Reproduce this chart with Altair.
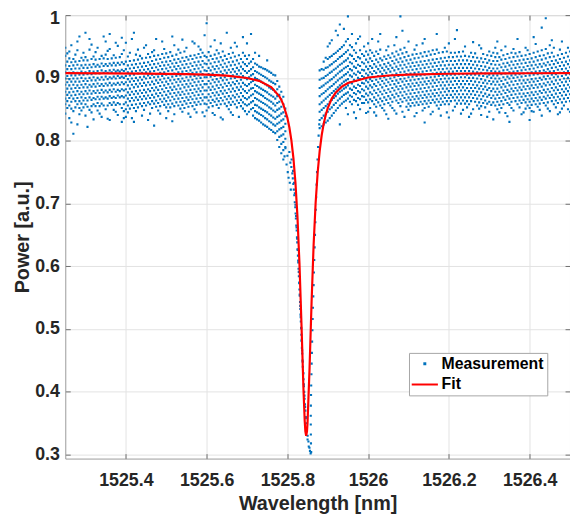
import altair as alt
import pandas as pd

# ---------------- Measurement: columns of points (wavelength nm -> list of power a.u.)
wl_a = [1525.25, 1525.26, 1525.27, 1525.28, 1525.29, 1525.30, 1525.31, 1525.32,
        1525.33, 1525.34, 1525.35, 1525.36, 1525.37, 1525.38, 1525.39]
pw_a = [
    [0.843, 0.858, 0.867, 0.878, 0.889, 0.899, 0.909, 0.920, 0.935, 0.948],
    [0.836, 0.856, 0.868, 0.877, 0.888, 0.898, 0.908, 0.919, 0.931, 0.942],
    [0.811, 0.847, 0.867, 0.878, 0.889, 0.899, 0.909, 0.920, 0.930],
    [0.826, 0.858, 0.868, 0.879, 0.888, 0.899, 0.908, 0.921, 0.944, 0.958],
    [0.848, 0.859, 0.869, 0.878, 0.889, 0.900, 0.910, 0.920, 0.932],
    [0.840, 0.858, 0.868, 0.879, 0.890, 0.899, 0.909, 0.921, 0.933, 0.972],
    [0.849, 0.869, 0.880, 0.889, 0.900, 0.911, 0.921, 0.945, 0.962],
    [0.834, 0.858, 0.868, 0.879, 0.890, 0.901, 0.910, 0.922, 0.934],
    [0.848, 0.860, 0.870, 0.880, 0.891, 0.900, 0.911, 0.921, 0.948],
    [0.838, 0.859, 0.870, 0.881, 0.890, 0.901, 0.912, 0.923, 0.935],
    [0.850, 0.869, 0.880, 0.891, 0.902, 0.911, 0.922, 0.937, 0.958],
    [0.833, 0.860, 0.871, 0.881, 0.892, 0.901, 0.912, 0.923, 0.946, 0.970],
    [0.849, 0.861, 0.870, 0.882, 0.891, 0.902, 0.913, 0.924, 0.936],
    [0.841, 0.860, 0.872, 0.881, 0.892, 0.903, 0.912, 0.924, 0.951],
    [0.830, 0.852, 0.871, 0.882, 0.893, 0.902, 0.913, 0.925, 0.938, 0.964],
]
wl_a2 = [1525.255, 1525.265, 1525.275, 1525.285, 1525.295, 1525.305, 1525.315, 1525.325,
         1525.335, 1525.345, 1525.355, 1525.365, 1525.375, 1525.385, 1525.395]
pw_a2 = [
    [0.852, 0.863, 0.873, 0.883, 0.893, 0.903, 0.914, 0.926, 0.939],
    [0.829, 0.851, 0.862, 0.872, 0.883, 0.894, 0.904, 0.914, 0.925, 0.952],
    [0.853, 0.863, 0.873, 0.884, 0.894, 0.904, 0.915, 0.926, 0.937],
    [0.842, 0.852, 0.863, 0.874, 0.884, 0.894, 0.905, 0.915, 0.927, 0.966],
    [0.853, 0.864, 0.874, 0.885, 0.895, 0.905, 0.916, 0.928, 0.940],
    [0.822, 0.854, 0.864, 0.875, 0.885, 0.895, 0.906, 0.916, 0.928],
    [0.845, 0.855, 0.865, 0.875, 0.886, 0.896, 0.906, 0.917, 0.930, 0.953],
    [0.855, 0.866, 0.876, 0.886, 0.896, 0.907, 0.918, 0.929, 0.941],
    [0.843, 0.855, 0.866, 0.876, 0.887, 0.897, 0.907, 0.918, 0.930],
    [0.856, 0.867, 0.877, 0.887, 0.897, 0.908, 0.919, 0.931, 0.966],
    [0.835, 0.856, 0.867, 0.877, 0.888, 0.898, 0.908, 0.919, 0.930, 0.943],
    [0.857, 0.868, 0.878, 0.888, 0.899, 0.909, 0.920, 0.931],
    [0.846, 0.857, 0.868, 0.878, 0.889, 0.899, 0.910, 0.920, 0.932, 0.956],
    [0.858, 0.869, 0.879, 0.889, 0.900, 0.910, 0.921, 0.933],
    [0.836, 0.847, 0.858, 0.869, 0.880, 0.890, 0.900, 0.911, 0.922, 0.944],
]

wl_b = [1525.40, 1525.41, 1525.42, 1525.43, 1525.44, 1525.45, 1525.46, 1525.47, 1525.48, 1525.49,
        1525.50, 1525.51, 1525.52, 1525.53, 1525.54, 1525.55, 1525.56, 1525.57, 1525.58, 1525.59]
pw_b = [
    [0.838, 0.850, 0.861, 0.872, 0.882, 0.893, 0.903, 0.914, 0.926, 0.956],
    [0.851, 0.863, 0.873, 0.883, 0.894, 0.904, 0.915, 0.927, 0.940],
    [0.830, 0.852, 0.864, 0.874, 0.885, 0.895, 0.905, 0.916, 0.928, 0.972],
    [0.853, 0.865, 0.875, 0.886, 0.896, 0.907, 0.917, 0.929, 0.945],
    [0.840, 0.855, 0.866, 0.876, 0.887, 0.897, 0.908, 0.918, 0.931],
    [0.856, 0.867, 0.877, 0.888, 0.899, 0.909, 0.919, 0.932, 0.952],
    [0.843, 0.858, 0.868, 0.879, 0.889, 0.900, 0.910, 0.921, 0.933],
    [0.824, 0.859, 0.869, 0.880, 0.890, 0.901, 0.911, 0.922, 0.935, 0.944],
    [0.848, 0.860, 0.871, 0.881, 0.892, 0.902, 0.913, 0.923, 0.936],
    [0.862, 0.872, 0.882, 0.893, 0.903, 0.914, 0.925, 0.938, 0.958],
    [0.836, 0.853, 0.863, 0.873, 0.884, 0.894, 0.905, 0.915, 0.926, 0.939],
    [0.853, 0.864, 0.875, 0.885, 0.896, 0.906, 0.917, 0.927, 0.941],
    [0.842, 0.855, 0.866, 0.876, 0.886, 0.897, 0.907, 0.918, 0.929, 0.952],
    [0.856, 0.867, 0.877, 0.888, 0.898, 0.909, 0.919, 0.930, 0.945],
    [0.846, 0.857, 0.868, 0.878, 0.889, 0.899, 0.910, 0.921, 0.932, 0.961],
    [0.859, 0.869, 0.880, 0.890, 0.901, 0.911, 0.922, 0.933, 0.948],
    [0.838, 0.860, 0.870, 0.881, 0.891, 0.902, 0.912, 0.923, 0.935],
    [0.850, 0.861, 0.872, 0.882, 0.893, 0.903, 0.914, 0.925, 0.936, 0.955],
    [0.862, 0.873, 0.883, 0.894, 0.904, 0.915, 0.926, 0.938, 0.950],
    [0.845, 0.864, 0.874, 0.885, 0.895, 0.906, 0.917, 0.927, 0.940],
]
wl_b2 = [1525.405, 1525.415, 1525.425, 1525.435, 1525.445, 1525.455, 1525.465, 1525.475,
         1525.485, 1525.495, 1525.505, 1525.515, 1525.525, 1525.535, 1525.545, 1525.555,
         1525.565, 1525.575, 1525.585, 1525.595]
pw_b2 = [
    [0.845, 0.856, 0.867, 0.877, 0.888, 0.898, 0.909, 0.920, 0.934],
    [0.836, 0.857, 0.868, 0.878, 0.889, 0.899, 0.910, 0.921, 0.962],
    [0.847, 0.858, 0.869, 0.879, 0.890, 0.900, 0.911, 0.922, 0.937],
    [0.859, 0.870, 0.880, 0.891, 0.901, 0.912, 0.923, 0.935],
    [0.849, 0.860, 0.871, 0.881, 0.892, 0.902, 0.913, 0.924, 0.948],
    [0.833, 0.861, 0.872, 0.882, 0.893, 0.904, 0.914, 0.925, 0.938],
    [0.852, 0.863, 0.873, 0.884, 0.894, 0.905, 0.916, 0.927, 0.941],
    [0.854, 0.864, 0.875, 0.885, 0.896, 0.906, 0.917, 0.929, 0.962],
    [0.843, 0.855, 0.866, 0.876, 0.887, 0.897, 0.908, 0.919, 0.930],
    [0.857, 0.867, 0.878, 0.888, 0.899, 0.909, 0.920, 0.932, 0.946],
    [0.847, 0.858, 0.869, 0.879, 0.890, 0.900, 0.911, 0.921, 0.933],
    [0.831, 0.859, 0.870, 0.881, 0.891, 0.902, 0.912, 0.923, 0.935, 0.966],
    [0.861, 0.872, 0.882, 0.893, 0.903, 0.914, 0.924, 0.937],
    [0.851, 0.862, 0.873, 0.883, 0.894, 0.904, 0.915, 0.926, 0.940],
    [0.852, 0.863, 0.874, 0.885, 0.895, 0.906, 0.916, 0.927, 0.942],
    [0.843, 0.854, 0.865, 0.875, 0.886, 0.896, 0.907, 0.917, 0.929],
    [0.855, 0.866, 0.876, 0.887, 0.897, 0.908, 0.919, 0.930, 0.958],
    [0.845, 0.857, 0.867, 0.878, 0.888, 0.899, 0.909, 0.920, 0.932],
    [0.858, 0.868, 0.879, 0.889, 0.900, 0.910, 0.921, 0.933, 0.945],
    [0.839, 0.859, 0.869, 0.880, 0.890, 0.901, 0.912, 0.923, 0.935, 0.968],
]

wl_c = [1525.60, 1525.61, 1525.62, 1525.63, 1525.64, 1525.65, 1525.66, 1525.67, 1525.68, 1525.69]
pw_c = [
    [0.848, 0.858, 0.869, 0.880, 0.890, 0.901, 0.911, 0.922, 0.933, 0.987],
    [0.860, 0.870, 0.881, 0.891, 0.902, 0.912, 0.923, 0.935, 0.950],
    [0.841, 0.862, 0.872, 0.882, 0.893, 0.903, 0.914, 0.925, 0.937, 0.960],
    [0.852, 0.863, 0.873, 0.884, 0.894, 0.905, 0.915, 0.926, 0.939],
    [0.834, 0.864, 0.875, 0.885, 0.896, 0.906, 0.917, 0.928, 0.942],
    [0.855, 0.866, 0.876, 0.887, 0.897, 0.908, 0.918, 0.930, 0.972],
    [0.845, 0.857, 0.867, 0.878, 0.888, 0.899, 0.909, 0.920, 0.932, 0.948],
    [0.858, 0.869, 0.879, 0.890, 0.900, 0.910, 0.921, 0.934, 0.956],
    [0.838, 0.860, 0.870, 0.881, 0.891, 0.902, 0.912, 0.923, 0.936],
    [0.851, 0.861, 0.871, 0.882, 0.892, 0.903, 0.914, 0.925, 0.940, 0.965],
]
wl_c2 = [1525.605, 1525.615, 1525.625, 1525.635, 1525.645, 1525.655, 1525.665, 1525.675,
         1525.685, 1525.695]
pw_c2 = [
    [0.853, 0.864, 0.874, 0.885, 0.895, 0.906, 0.916, 0.928, 0.941],
    [0.844, 0.855, 0.865, 0.876, 0.886, 0.897, 0.907, 0.918, 0.930],
    [0.857, 0.867, 0.877, 0.888, 0.898, 0.909, 0.919, 0.931, 0.944],
    [0.837, 0.858, 0.868, 0.879, 0.889, 0.900, 0.910, 0.921, 0.933, 0.955],
    [0.859, 0.870, 0.880, 0.891, 0.901, 0.912, 0.923, 0.935],
    [0.850, 0.861, 0.871, 0.882, 0.892, 0.903, 0.913, 0.925, 0.938],
    [0.841, 0.862, 0.872, 0.883, 0.893, 0.904, 0.914, 0.926, 0.940],
    [0.853, 0.864, 0.874, 0.885, 0.895, 0.906, 0.916, 0.928, 0.950],
    [0.855, 0.865, 0.876, 0.886, 0.897, 0.907, 0.918, 0.930],
    [0.847, 0.858, 0.868, 0.879, 0.889, 0.900, 0.911, 0.922, 0.935],
]

wl_d = [1525.70, 1525.71, 1525.72, 1525.73, 1525.74, 1525.75, 1525.76, 1525.77, 1525.78, 1525.79]
pw_d = [
    [0.842, 0.856, 0.866, 0.876, 0.887, 0.898, 0.908, 0.919, 0.930, 0.955],
    [0.850, 0.861, 0.872, 0.883, 0.893, 0.904, 0.914, 0.926, 0.970],
    [0.836, 0.847, 0.857, 0.868, 0.879, 0.889, 0.900, 0.911, 0.923, 0.940],
    [0.832, 0.843, 0.853, 0.864, 0.875, 0.885, 0.896, 0.907, 0.918, 0.935],
    [0.826, 0.839, 0.849, 0.860, 0.871, 0.881, 0.892, 0.903, 0.915],
    [0.822, 0.834, 0.845, 0.856, 0.866, 0.877, 0.888, 0.899, 0.912, 0.928],
    [0.817, 0.829, 0.840, 0.851, 0.862, 0.872, 0.883, 0.894, 0.908],
    [0.812, 0.824, 0.835, 0.846, 0.856, 0.867, 0.878, 0.890, 0.904],
    [0.790, 0.806, 0.818, 0.829, 0.840, 0.851, 0.862, 0.873, 0.886],
    [0.770, 0.785, 0.798, 0.810, 0.822, 0.834, 0.845, 0.858, 0.870],
]
wl_d2 = [1525.705, 1525.715, 1525.725, 1525.735, 1525.745, 1525.755, 1525.765, 1525.775,
         1525.785, 1525.795]
pw_d2 = [
    [0.846, 0.858, 0.869, 0.880, 0.890, 0.901, 0.911, 0.923, 0.936],
    [0.840, 0.852, 0.863, 0.874, 0.884, 0.895, 0.906, 0.917, 0.930],
    [0.834, 0.845, 0.856, 0.866, 0.877, 0.887, 0.898, 0.909, 0.921],
    [0.829, 0.841, 0.851, 0.862, 0.873, 0.883, 0.894, 0.905, 0.917],
    [0.824, 0.836, 0.847, 0.858, 0.868, 0.879, 0.890, 0.901, 0.914],
    [0.819, 0.831, 0.842, 0.853, 0.864, 0.874, 0.885, 0.896, 0.910],
    [0.814, 0.826, 0.837, 0.848, 0.859, 0.870, 0.881, 0.892, 0.905],
    [0.801, 0.815, 0.827, 0.838, 0.849, 0.860, 0.871, 0.882, 0.895],
    [0.780, 0.795, 0.808, 0.820, 0.832, 0.843, 0.854, 0.866, 0.878],
    [0.790, 0.803, 0.815, 0.827, 0.839, 0.851],
]

wl_e = [1525.88, 1525.89, 1525.90, 1525.91, 1525.92, 1525.93, 1525.94, 1525.95, 1525.96,
        1525.97, 1525.98, 1525.99]
pw_e = [
    [0.820, 0.833, 0.846, 0.858, 0.871, 0.884, 0.897, 0.912],
    [0.826, 0.840, 0.852, 0.864, 0.876, 0.888, 0.900, 0.913, 0.926],
    [0.832, 0.846, 0.858, 0.870, 0.882, 0.893, 0.905, 0.917, 0.930, 0.950],
    [0.840, 0.853, 0.865, 0.876, 0.887, 0.898, 0.910, 0.922, 0.935, 0.960],
    [0.848, 0.860, 0.871, 0.882, 0.893, 0.904, 0.915, 0.927, 0.940, 0.975],
    [0.826, 0.856, 0.867, 0.878, 0.888, 0.899, 0.910, 0.921, 0.933, 0.946, 0.985],
    [0.862, 0.873, 0.883, 0.894, 0.904, 0.915, 0.926, 0.938, 0.952, 0.978],
    [0.842, 0.867, 0.877, 0.888, 0.898, 0.909, 0.919, 0.931, 0.944, 0.962, 0.998],
    [0.858, 0.870, 0.881, 0.891, 0.902, 0.912, 0.923, 0.935, 0.949, 0.970],
    [0.836, 0.863, 0.874, 0.884, 0.895, 0.905, 0.916, 0.927, 0.940, 0.955],
    [0.850, 0.866, 0.877, 0.887, 0.898, 0.908, 0.919, 0.931, 0.944, 0.966],
    [0.860, 0.870, 0.880, 0.891, 0.901, 0.912, 0.923, 0.935, 0.950],
]
wl_e2 = [1525.885, 1525.895, 1525.905, 1525.915, 1525.925, 1525.935, 1525.945, 1525.955,
         1525.965, 1525.975, 1525.985, 1525.995]
pw_e2 = [
    [0.823, 0.836, 0.849, 0.861, 0.874, 0.886, 0.899, 0.914],
    [0.829, 0.843, 0.855, 0.867, 0.879, 0.891, 0.903, 0.916, 0.932],
    [0.836, 0.850, 0.862, 0.873, 0.885, 0.896, 0.908, 0.920, 0.933, 0.955],
    [0.844, 0.857, 0.868, 0.879, 0.890, 0.901, 0.913, 0.925, 0.938],
    [0.852, 0.864, 0.875, 0.885, 0.896, 0.907, 0.918, 0.930, 0.943, 0.968],
    [0.859, 0.870, 0.880, 0.891, 0.901, 0.912, 0.923, 0.935, 0.949],
    [0.852, 0.864, 0.875, 0.885, 0.896, 0.906, 0.917, 0.928, 0.941, 0.958],
    [0.862, 0.872, 0.883, 0.893, 0.904, 0.914, 0.925, 0.937, 0.952],
    [0.845, 0.865, 0.876, 0.886, 0.897, 0.907, 0.918, 0.930, 0.944],
    [0.857, 0.868, 0.879, 0.889, 0.900, 0.910, 0.921, 0.933, 0.962],
    [0.860, 0.871, 0.882, 0.892, 0.903, 0.913, 0.925, 0.938],
    [0.844, 0.865, 0.875, 0.886, 0.896, 0.907, 0.918, 0.929, 0.942],
]

wl_f = [1526.00, 1526.01, 1526.02, 1526.03, 1526.04, 1526.05, 1526.06, 1526.07, 1526.08, 1526.09,
        1526.10, 1526.11, 1526.12, 1526.13, 1526.14, 1526.15, 1526.16, 1526.17, 1526.18, 1526.19,
        1526.20, 1526.21, 1526.22, 1526.23, 1526.24, 1526.25, 1526.26, 1526.27, 1526.28, 1526.29,
        1526.30, 1526.31, 1526.32, 1526.33, 1526.34, 1526.35, 1526.36, 1526.37, 1526.38, 1526.39,
        1526.40, 1526.41, 1526.42, 1526.43, 1526.44, 1526.45, 1526.46, 1526.47, 1526.48, 1526.49,
        1526.50]
pw_f = [
    [0.846, 0.861, 0.872, 0.883, 0.893, 0.904, 0.914, 0.925, 0.937, 0.955],
    [0.863, 0.874, 0.885, 0.895, 0.906, 0.916, 0.927, 0.940, 0.962],
    [0.840, 0.854, 0.865, 0.876, 0.887, 0.897, 0.908, 0.918, 0.929, 0.942],
    [0.856, 0.867, 0.878, 0.889, 0.899, 0.910, 0.920, 0.931, 0.945, 0.970],
    [0.848, 0.858, 0.869, 0.880, 0.891, 0.901, 0.912, 0.922, 0.934],
    [0.835, 0.860, 0.871, 0.882, 0.893, 0.903, 0.914, 0.924, 0.936, 0.950],
    [0.852, 0.862, 0.873, 0.884, 0.895, 0.905, 0.916, 0.927, 0.939],
    [0.843, 0.864, 0.875, 0.886, 0.896, 0.907, 0.918, 0.929, 0.942, 0.965],
    [0.855, 0.866, 0.877, 0.887, 0.898, 0.909, 0.920, 0.931, 0.945, 0.998],
    [0.838, 0.868, 0.878, 0.889, 0.899, 0.910, 0.921, 0.933, 0.948],
    [0.849, 0.859, 0.869, 0.880, 0.890, 0.901, 0.912, 0.923, 0.935, 0.958],
    [0.860, 0.870, 0.881, 0.891, 0.902, 0.913, 0.924, 0.937],
    [0.844, 0.861, 0.871, 0.882, 0.892, 0.903, 0.914, 0.925, 0.938, 0.952],
    [0.862, 0.872, 0.883, 0.893, 0.904, 0.915, 0.926, 0.939],
    [0.829, 0.852, 0.863, 0.873, 0.884, 0.894, 0.905, 0.916, 0.927, 0.941, 0.962],
    [0.854, 0.864, 0.874, 0.885, 0.895, 0.906, 0.917, 0.928, 0.942],
    [0.846, 0.865, 0.875, 0.886, 0.896, 0.907, 0.918, 0.929, 0.944],
    [0.856, 0.866, 0.876, 0.887, 0.897, 0.908, 0.919, 0.930, 0.945, 0.970],
    [0.840, 0.857, 0.867, 0.877, 0.888, 0.898, 0.909, 0.920, 0.931],
    [0.858, 0.868, 0.878, 0.888, 0.899, 0.909, 0.920, 0.932, 0.948],
    [0.837, 0.858, 0.868, 0.879, 0.889, 0.899, 0.910, 0.921, 0.933, 0.955],
    [0.848, 0.869, 0.879, 0.889, 0.900, 0.910, 0.921, 0.933],
    [0.859, 0.869, 0.879, 0.890, 0.900, 0.911, 0.922, 0.934, 0.976],
    [0.843, 0.859, 0.869, 0.880, 0.890, 0.901, 0.911, 0.922, 0.934],
    [0.859, 0.869, 0.880, 0.890, 0.901, 0.911, 0.922, 0.935, 0.950],
    [0.838, 0.858, 0.869, 0.879, 0.890, 0.900, 0.911, 0.922, 0.934],
    [0.850, 0.868, 0.879, 0.889, 0.900, 0.910, 0.921, 0.933, 0.957],
    [0.856, 0.867, 0.878, 0.888, 0.899, 0.909, 0.920, 0.932],
    [0.841, 0.855, 0.866, 0.877, 0.887, 0.898, 0.908, 0.919, 0.931, 0.947],
    [0.853, 0.864, 0.875, 0.886, 0.896, 0.907, 0.918, 0.930],
    [0.846, 0.862, 0.873, 0.884, 0.895, 0.905, 0.916, 0.928, 0.942],
    [0.834, 0.861, 0.872, 0.883, 0.894, 0.904, 0.915, 0.927, 0.940],
    [0.850, 0.862, 0.873, 0.883, 0.894, 0.904, 0.915, 0.927, 0.939, 0.958],
    [0.852, 0.863, 0.874, 0.885, 0.895, 0.906, 0.917, 0.929, 0.944],
    [0.844, 0.865, 0.876, 0.886, 0.897, 0.907, 0.918, 0.930, 0.950],
    [0.830, 0.857, 0.867, 0.878, 0.888, 0.899, 0.909, 0.920, 0.932],
    [0.848, 0.868, 0.879, 0.889, 0.900, 0.910, 0.921, 0.933, 0.946],
    [0.858, 0.869, 0.880, 0.890, 0.901, 0.911, 0.922, 0.934, 0.962],
    [0.842, 0.860, 0.870, 0.881, 0.891, 0.902, 0.912, 0.923, 0.935],
    [0.851, 0.861, 0.871, 0.882, 0.892, 0.903, 0.913, 0.924, 0.936, 0.948],
    [0.833, 0.852, 0.862, 0.872, 0.883, 0.893, 0.904, 0.914, 0.925, 0.938],
    [0.846, 0.863, 0.873, 0.884, 0.894, 0.905, 0.915, 0.926, 0.940, 0.965],
    [0.854, 0.864, 0.874, 0.885, 0.895, 0.906, 0.917, 0.928, 0.942],
    [0.840, 0.865, 0.876, 0.886, 0.897, 0.907, 0.918, 0.929, 0.944, 0.980],
    [0.856, 0.867, 0.877, 0.888, 0.898, 0.909, 0.920, 0.931, 0.946, 0.995],
    [0.847, 0.868, 0.878, 0.889, 0.899, 0.910, 0.921, 0.933, 0.952],
    [0.858, 0.869, 0.880, 0.890, 0.901, 0.911, 0.922, 0.934, 0.948],
    [0.842, 0.860, 0.870, 0.881, 0.891, 0.902, 0.913, 0.924, 0.936],
    [0.851, 0.861, 0.872, 0.882, 0.893, 0.903, 0.914, 0.925, 0.938, 0.958],
    [0.862, 0.873, 0.883, 0.894, 0.905, 0.915, 0.926, 0.940],
    [0.846, 0.863, 0.874, 0.885, 0.895, 0.906, 0.917, 0.928, 0.942],
]
wl_f2 = [1526.005, 1526.015, 1526.025, 1526.035, 1526.045, 1526.055, 1526.065, 1526.075,
         1526.085, 1526.095, 1526.105, 1526.115, 1526.125, 1526.135, 1526.145, 1526.155,
         1526.165, 1526.175, 1526.185, 1526.195, 1526.205, 1526.215, 1526.225, 1526.235,
         1526.245, 1526.255, 1526.265, 1526.275, 1526.285, 1526.295, 1526.305, 1526.315,
         1526.325, 1526.335, 1526.345, 1526.355, 1526.365, 1526.375, 1526.385, 1526.395,
         1526.405, 1526.415, 1526.425, 1526.435, 1526.445, 1526.455, 1526.465, 1526.475,
         1526.485, 1526.495]
pw_f2 = [
    [0.852, 0.866, 0.877, 0.888, 0.898, 0.909, 0.919, 0.931, 0.944],
    [0.845, 0.858, 0.869, 0.880, 0.890, 0.901, 0.911, 0.922, 0.935],
    [0.861, 0.872, 0.882, 0.893, 0.903, 0.914, 0.925, 0.938, 0.958],
    [0.852, 0.863, 0.874, 0.885, 0.895, 0.906, 0.916, 0.928],
    [0.842, 0.865, 0.876, 0.887, 0.897, 0.908, 0.918, 0.930, 0.944],
    [0.856, 0.867, 0.878, 0.889, 0.899, 0.910, 0.920, 0.932],
    [0.848, 0.869, 0.880, 0.890, 0.901, 0.912, 0.923, 0.934, 0.952],
    [0.860, 0.871, 0.882, 0.892, 0.903, 0.914, 0.925, 0.937],
    [0.846, 0.862, 0.872, 0.883, 0.894, 0.904, 0.915, 0.926, 0.939, 0.975],
    [0.854, 0.864, 0.874, 0.885, 0.895, 0.906, 0.917, 0.928, 0.941],
    [0.855, 0.865, 0.875, 0.886, 0.896, 0.907, 0.918, 0.929],
    [0.839, 0.856, 0.866, 0.876, 0.887, 0.897, 0.908, 0.919, 0.931, 0.945],
    [0.857, 0.867, 0.877, 0.888, 0.898, 0.909, 0.920, 0.932],
    [0.848, 0.858, 0.868, 0.878, 0.889, 0.899, 0.910, 0.921, 0.934, 0.955],
    [0.859, 0.869, 0.879, 0.890, 0.900, 0.911, 0.922, 0.935],
    [0.842, 0.860, 0.870, 0.880, 0.891, 0.901, 0.912, 0.923, 0.937],
    [0.861, 0.871, 0.881, 0.892, 0.902, 0.913, 0.924, 0.938],
    [0.851, 0.862, 0.872, 0.882, 0.893, 0.903, 0.914, 0.925, 0.940],
    [0.862, 0.872, 0.883, 0.893, 0.904, 0.914, 0.926, 0.941],
    [0.845, 0.863, 0.873, 0.883, 0.894, 0.904, 0.915, 0.927, 0.942],
    [0.863, 0.873, 0.884, 0.894, 0.905, 0.915, 0.927, 0.940],
    [0.854, 0.864, 0.874, 0.884, 0.895, 0.905, 0.916, 0.927, 0.940, 0.962],
    [0.864, 0.874, 0.885, 0.895, 0.906, 0.916, 0.928, 0.941],
    [0.849, 0.864, 0.874, 0.885, 0.895, 0.906, 0.916, 0.928, 0.942],
    [0.853, 0.863, 0.874, 0.884, 0.895, 0.905, 0.916, 0.928],
    [0.843, 0.863, 0.874, 0.884, 0.895, 0.905, 0.916, 0.927, 0.940],
    [0.862, 0.873, 0.884, 0.894, 0.905, 0.915, 0.926, 0.939],
    [0.851, 0.861, 0.872, 0.883, 0.893, 0.904, 0.914, 0.926, 0.952],
    [0.860, 0.871, 0.882, 0.892, 0.903, 0.913, 0.925, 0.938],
    [0.838, 0.859, 0.870, 0.881, 0.891, 0.902, 0.912, 0.924, 0.936],
    [0.857, 0.868, 0.879, 0.890, 0.900, 0.911, 0.922, 0.935],
    [0.856, 0.867, 0.878, 0.889, 0.899, 0.910, 0.921, 0.933, 0.948],
    [0.845, 0.857, 0.868, 0.878, 0.889, 0.899, 0.910, 0.921, 0.933],
    [0.858, 0.869, 0.880, 0.890, 0.901, 0.912, 0.923, 0.936],
    [0.839, 0.860, 0.871, 0.881, 0.892, 0.902, 0.913, 0.924, 0.938],
    [0.852, 0.862, 0.873, 0.883, 0.894, 0.904, 0.915, 0.926, 0.940],
    [0.863, 0.874, 0.884, 0.895, 0.905, 0.916, 0.927, 0.939],
    [0.853, 0.864, 0.875, 0.885, 0.896, 0.906, 0.917, 0.928, 0.941],
    [0.845, 0.865, 0.875, 0.886, 0.896, 0.907, 0.917, 0.929],
    [0.856, 0.866, 0.876, 0.887, 0.897, 0.908, 0.919, 0.930, 0.944],
    [0.847, 0.857, 0.867, 0.877, 0.888, 0.898, 0.909, 0.920, 0.931],
    [0.858, 0.868, 0.878, 0.889, 0.899, 0.910, 0.921, 0.933, 0.954],
    [0.849, 0.859, 0.869, 0.879, 0.890, 0.900, 0.911, 0.922, 0.935],
    [0.860, 0.870, 0.881, 0.891, 0.902, 0.912, 0.923, 0.936],
    [0.851, 0.861, 0.872, 0.882, 0.893, 0.903, 0.914, 0.925, 0.939],
    [0.863, 0.873, 0.884, 0.894, 0.905, 0.916, 0.927, 0.940, 0.960],
    [0.853, 0.864, 0.875, 0.885, 0.896, 0.906, 0.917, 0.928],
    [0.845, 0.866, 0.876, 0.887, 0.897, 0.908, 0.919, 0.930, 0.945],
    [0.856, 0.867, 0.878, 0.888, 0.899, 0.909, 0.920, 0.932],
    [0.850, 0.868, 0.879, 0.889, 0.900, 0.911, 0.922, 0.934, 0.948],
]

# ---------------- Measurement: individual points along the resonance dip
wl_dip1 = [1525.7952, 1525.8001, 1525.8050, 1525.8074, 1525.8099, 1525.8123, 1525.8135, 1525.8148,
           1525.8160, 1525.8172, 1525.8184, 1525.8196, 1525.8204, 1525.8211, 1525.8221, 1525.8231,
           1525.8238, 1525.8245, 1525.8253, 1525.8262, 1525.8270, 1525.8277, 1525.8285, 1525.8294,
           1525.8299, 1525.8307, 1525.8314, 1525.8321, 1525.8326, 1525.8333, 1525.8341, 1525.8348,
           1525.8353, 1525.8360, 1525.8368, 1525.8375, 1525.8383, 1525.8392, 1525.8400, 1525.8410,
           1525.8417, 1525.8427, 1525.8436, 1525.8446, 1525.8458, 1525.8470, 1525.8485, 1525.8502,
           1525.8522, 1525.8547, 1525.8576]
pw_dip1 = [0.788, 0.776, 0.782, 0.765, 0.758, 0.748, 0.740, 0.731, 0.722, 0.713, 0.702, 0.694,
           0.684, 0.676, 0.665, 0.657, 0.646, 0.638, 0.627, 0.617, 0.606, 0.596, 0.584, 0.574,
           0.563, 0.553, 0.543, 0.532, 0.523, 0.512, 0.502, 0.491, 0.481, 0.470, 0.461, 0.450,
           0.440, 0.429, 0.420, 0.409, 0.400, 0.389, 0.380, 0.370, 0.360, 0.350, 0.340, 0.330,
           0.321, 0.311, 0.302]

wl_dip2 = [1525.7930, 1525.7980, 1525.8010, 1525.8030, 1525.8060, 1525.8085,
           1525.8105, 1525.8140, 1525.8165, 1525.8185, 1525.8200, 1525.8215, 1525.8228, 1525.8242,
           1525.8256, 1525.8268, 1525.8282, 1525.8295, 1525.8306, 1525.8318, 1525.8330, 1525.8342,
           1525.8355, 1525.8366, 1525.8380, 1525.8394, 1525.8408, 1525.8424, 1525.8440, 1525.8458,
           1525.8478, 1525.8500, 1525.8530, 1525.8560]
pw_dip2 = [0.775, 0.762, 0.750, 0.741, 0.733, 0.722,
           0.770, 0.752, 0.733, 0.716, 0.698, 0.680, 0.662, 0.644, 0.626, 0.609, 0.591, 0.573,
           0.555, 0.537, 0.519, 0.501, 0.483, 0.466, 0.448, 0.430, 0.412, 0.394, 0.376, 0.358,
           0.341, 0.324, 0.313, 0.306]

wl_dip3 = [1525.8590, 1525.8585, 1525.8582, 1525.8580, 1525.8580, 1525.8582, 1525.8586, 1525.8590,
           1525.8596, 1525.8601, 1525.8607, 1525.8613, 1525.8620, 1525.8627, 1525.8634, 1525.8642,
           1525.8650, 1525.8658, 1525.8666, 1525.8675, 1525.8684, 1525.8693, 1525.8703, 1525.8713,
           1525.8724, 1525.8735, 1525.8747, 1525.8760, 1525.8774, 1525.8790]
pw_dip3 = [0.304, 0.318, 0.332, 0.348, 0.362, 0.378, 0.395, 0.410, 0.428, 0.445, 0.462, 0.480,
           0.498, 0.516, 0.534, 0.552, 0.570, 0.590, 0.610, 0.630, 0.650, 0.670, 0.690, 0.710,
           0.730, 0.750, 0.770, 0.790, 0.808, 0.826]

# ---------------- Lorentzian fit curve
fit_wl = [1525.25, 1525.35, 1525.45, 1525.55, 1525.60, 1525.65, 1525.70, 1525.73, 1525.76,
          1525.78, 1525.785, 1525.79, 1525.80, 1525.805, 1525.81, 1525.815, 1525.82, 1525.825,
          1525.83, 1525.835, 1525.84, 1525.843, 1525.8446, 1525.8466, 1525.8486, 1525.85,
          1525.855, 1525.86, 1525.865, 1525.87, 1525.875, 1525.88, 1525.885, 1525.89, 1525.895,
          1525.90, 1525.91, 1525.92, 1525.935, 1525.95, 1526.00, 1526.05, 1526.10, 1526.20,
          1526.30, 1526.40, 1526.50]
fit_pw = [0.9075, 0.9073, 0.9069, 0.9060, 0.9051, 0.9035, 0.8999, 0.8953, 0.8853,
          0.8707, 0.865, 0.8576, 0.8366, 0.821, 0.8005, 0.7724, 0.7334, 0.679,
          0.6038, 0.5064, 0.402, 0.3535, 0.337, 0.330, 0.337, 0.351,
          0.4382, 0.5436, 0.6335, 0.7007, 0.7489, 0.7835, 0.8086, 0.8272, 0.841,
          0.8519, 0.867, 0.8769, 0.886, 0.8919, 0.9006, 0.9038, 0.9053, 0.9066,
          0.9071, 0.9074, 0.9076]

series_names = ["Measurement", "Fit"]
series_colors = ["#0072BD", "#FF0000"]
series_shapes = ["M-0.1,-0.1H0.1V0.1H-0.1Z", "M-2.65,0H2.65"]
x_ticks = [1525.4, 1525.6, 1525.8, 1526.0, 1526.2, 1526.4]
y_ticks = [0.3, 0.4, 0.5, 0.6, 0.7, 0.8, 0.9, 1.0]
x_title = "Wavelength [nm]"
y_title = "Power [a.u.]"

# ---------------- build tables
rows = []
column_sets = [(wl_a, pw_a), (wl_a2, pw_a2), (wl_b, pw_b), (wl_b2, pw_b2), (wl_c, pw_c),
               (wl_c2, pw_c2), (wl_d, pw_d), (wl_d2, pw_d2), (wl_e, pw_e), (wl_e2, pw_e2),
               (wl_f, pw_f), (wl_f2, pw_f2)]
for wls, pws in column_sets:
    for w, col in zip(wls, pws):
        for p in col:
            rows.append({"wl": w, "pw": p, "series": series_names[0]})
for wls, pws in [(wl_dip1, pw_dip1), (wl_dip2, pw_dip2), (wl_dip3, pw_dip3)]:
    for w, p in zip(wls, pws):
        rows.append({"wl": w, "pw": p, "series": series_names[0]})
meas = pd.DataFrame(rows)
fit = pd.DataFrame({"wl": fit_wl, "pw": fit_pw, "series": series_names[1]})

FONT = "Liberation Sans"
TXT = "#262626"
TICK = "#6e6e6e"

x_scale = alt.Scale(domain=[1525.25, 1526.5], nice=False, zero=False)
y_scale = alt.Scale(domain=[0.2937, 1.0], nice=False, zero=False)
color_scale = alt.Scale(domain=series_names, range=series_colors)
shape_scale = alt.Scale(domain=series_names, range=series_shapes)

legend = alt.Legend(title=None, orient="none", legendX=348, legendY=342)

main_x = alt.Axis(values=x_ticks, format=".1~f", title=x_title, grid=True, ticks=False, tickSize=0,
                  domain=False, labelPadding=13, titlePadding=5, labelFontSize=18,
                  labelFontWeight="bold", labelColor=TXT, titleFontSize=20, titleFontWeight="bold",
                  titleColor=TXT, gridColor="#e3e3e3", labelFont=FONT, titleFont=FONT)
main_y = alt.Axis(values=y_ticks, format=".1~f", title=y_title, grid=True, ticks=False, tickSize=0,
                  domain=False, labelPadding=6, titlePadding=2, labelFontSize=18,
                  labelFontWeight="bold", labelColor=TXT, titleFontSize=20, titleFontWeight="bold",
                  titleColor=TXT, gridColor="#e3e3e3", labelFont=FONT, titleFont=FONT,
                  labelOffset={"condition": {"test": "datum.value >= 0.99", "value": 3}, "value": 0})


def tick_axis(vals, orient):
    return alt.Axis(values=vals, orient=orient, offset=-5, tickSize=5, ticks=True, labels=False,
                    grid=False, domain=False, title=None, tickColor=TICK, tickWidth=1)


points = alt.Chart(meas).mark_point(
    filled=False, size=100, strokeWidth=1.15, opacity=1, clip=True
).encode(
    x=alt.X("wl:Q", scale=x_scale, axis=main_x),
    y=alt.Y("pw:Q", scale=y_scale, axis=main_y),
    color=alt.Color("series:N", scale=color_scale, legend=legend),
    shape=alt.Shape("series:N", scale=shape_scale, legend=legend),
)

fit_line = alt.Chart(fit).mark_line(strokeWidth=2.2, clip=True).encode(
    x=alt.X("wl:Q", scale=x_scale, axis=tick_axis(x_ticks, "bottom")),
    y=alt.Y("pw:Q", scale=y_scale, axis=tick_axis(y_ticks, "left")),
    color=alt.Color("series:N", scale=color_scale, legend=legend),
)

ticks_far = alt.Chart(fit).mark_line(opacity=0, clip=True).encode(
    x=alt.X("wl:Q", scale=x_scale, axis=tick_axis(x_ticks, "top")),
    y=alt.Y("pw:Q", scale=y_scale, axis=tick_axis(y_ticks, "right")),
)

chart = alt.layer(points, fit_line, ticks_far).resolve_axis(
    x="independent", y="independent"
).properties(
    width=511, height=449,
    autosize=alt.AutoSizeParams(type="none"),
    padding={"left": 58, "top": 4, "right": 0, "bottom": 60},
).configure(
    font=FONT, background="white"
).configure_view(
    stroke="#9a9a9a", strokeWidth=1
).configure_legend(
    padding=3, fillColor="white", strokeColor="#a6a6a6", cornerRadius=0,
    labelFont=FONT, labelFontSize=16, labelFontWeight="bold", labelColor="black",
    symbolSize=100, symbolStrokeWidth=2, rowPadding=5, labelOffset=9, symbolOffset=5,
)

chart.save("out.html", embed_options={"renderer": "svg", "actions": False})
